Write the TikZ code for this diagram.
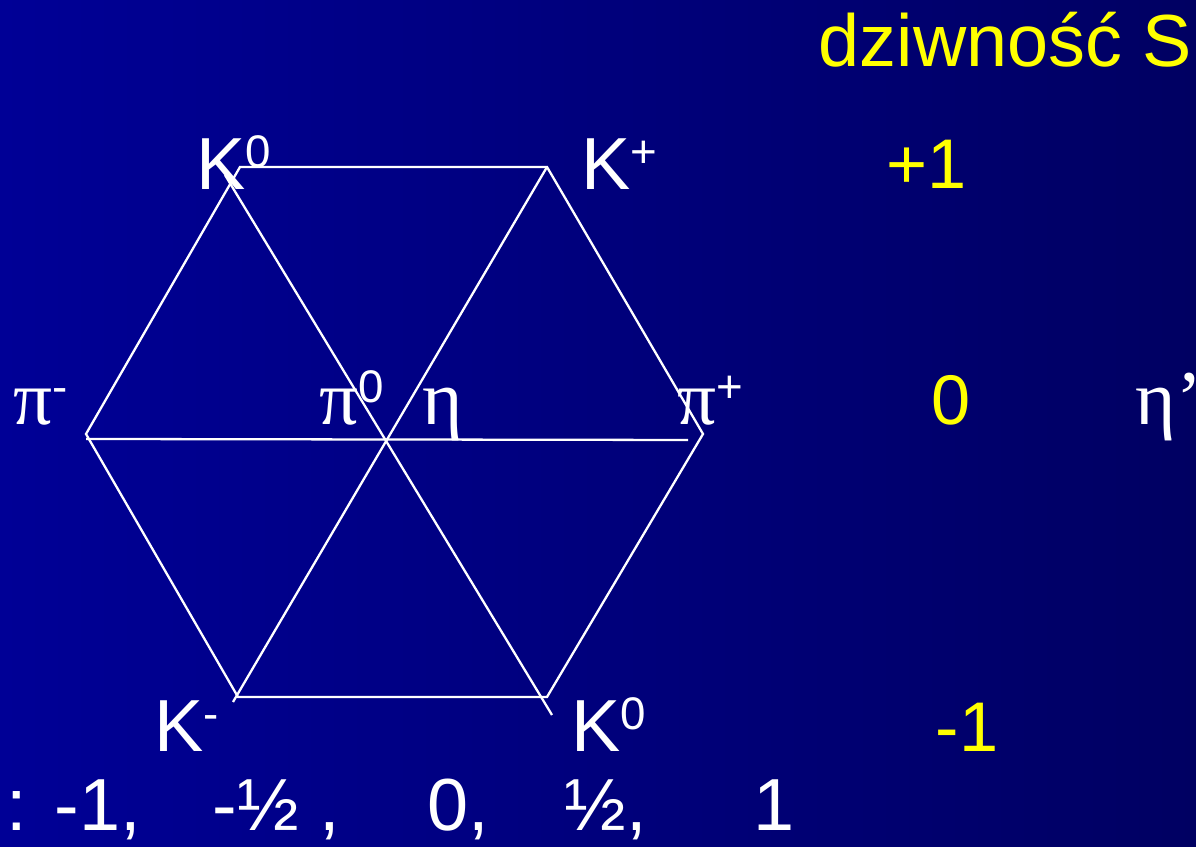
\documentclass[tikz,border=0pt]{standalone}
\usepackage{fontspec}
\setmainfont{Liberation Sans}
\newfontfamily\greckie{Liberation Serif}
\usetikzlibrary{positioning, calc}
\definecolor{tlolewe}{HTML}{000096}
\definecolor{tloprawe}{HTML}{000062}
\definecolor{zolty}{HTML}{FFFF00}
\newcommand{\gora}[1]{\raisebox{0.22cm}{\fontsize{13}{15}\selectfont #1}}
\begin{document}
\begin{tikzpicture}[
    linia/.style={draw=white, line width=0.65pt},
    czastka/.style={text=white, inner sep=0pt, anchor=base west, font=\fontsize{21}{25}\selectfont},
    grecka/.style={czastka, font=\fontsize{22}{26}\selectfont\greckie},
    liczba/.style={text=zolty, inner sep=0pt, anchor=base west, font=\fontsize{20}{24}\selectfont}
  ]
  % Tlo
  \shade[left color=tlolewe, right color=tloprawe] (0,0) rectangle (11.96,8.47);
  \useasboundingbox (0,0) rectangle (11.96,8.47);

  % Wierzcholki szesciokata
  \coordinate (TL) at (2.40,6.80);
  \coordinate (TR) at (5.47,6.80);
  \coordinate (L) at (0.86,4.13);
  \coordinate (R) at (7.03,4.13);
  \coordinate (BL) at (2.38,1.50);
  \coordinate (BR) at (5.47,1.50);
  \coordinate (hL) at (0.86,4.08);
  \coordinate (hR) at (6.88,4.07);
  \coordinate (d1a) at (2.25,6.72);
  \coordinate (d1b) at (5.52,1.32);
  \coordinate (d2a) at (5.47,6.80);
  \coordinate (d2b) at (2.33,1.45);

  % Szesciokat i przekatne
  \draw[linia] (TL) -- (TR) -- (R) -- (BR) -- (BL) -- (L) -- cycle;
  \draw[linia] (hL) -- (hR);
  \draw[linia] (d1a) -- (d1b);
  \draw[linia] (d2a) -- (d2b);

  % Mezony
  \node[czastka] (K0g) at (1.96,6.57) {K\gora{0}};
  \node[czastka] (Kp) at (5.81,6.57) {K\gora{+}};
  \node[grecka] (pim) at (0.13,4.22) {π\gora{\rmfamily -}};
  \node[grecka] (pi0) at (3.19,4.22) {π\gora{\rmfamily 0}};
  \node[grecka] (eta) at (4.22,4.22) {η};
  \node[grecka] (pip) at (6.77,4.22) {π\gora{\rmfamily +}};
  \node[czastka] (Km) at (1.54,0.95) {K\gora{-}};
  \node[czastka] (K0d) at (5.71,0.95) {K\gora{0}};
  \node[grecka] (etap) at (11.35,4.22) {η’};

  % Dziwnosc
  \node[liczba, font=\fontsize{21}{25}\selectfont] (tytul) at (8.18,7.80) {dziwność S};
  \node[liczba] (Sp) at (8.86,6.58) {+1};
  \node[liczba] (S0) at (9.31,4.22) {0};
  \node[liczba] (Sm) at (9.35,0.95) {-1};

  % Izospin
  \node[czastka] (i0) at (0.06,0.16) {:};
  \node[czastka] (i1) at (0.54,0.16) {-1,};
  \node[czastka] (i2) at (2.12,0.16) {-½ ,};
  \node[czastka] (i3) at (4.27,0.16) {0,};
  \node[czastka] (i4) at (5.64,0.16) {½,};
  \node[czastka] (i5) at (7.53,0.16) {1};
\end{tikzpicture}
\end{document}
